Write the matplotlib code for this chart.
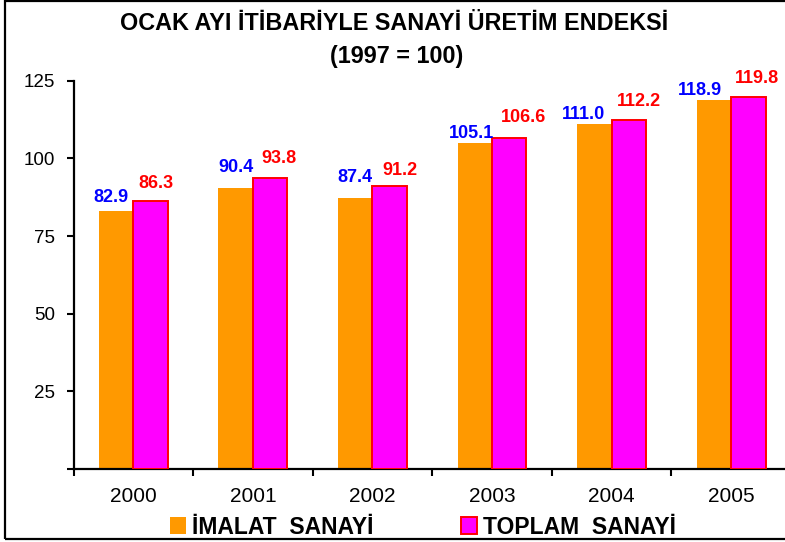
import numpy as np
import matplotlib
matplotlib.use("Agg")
import matplotlib.pyplot as plt
from matplotlib.patches import Rectangle, Patch

# veriler
years = ["2000", "2001", "2002", "2003", "2004", "2005"]
imalat = [82.9, 90.4, 87.4, 105.1, 111.0, 118.9]
toplam = [86.3, 93.8, 91.2, 106.6, 112.2, 119.8]

# etiket kaydirmalari (piksel)
imalat_off = [(-5, 9), (0, 16), (0, 16), (-3, 5), (-11, 5), (-14, 5)]
toplam_off = [(5, 13), (9, 15), (10, 11), (14, 16), (10, 14), (9, 14)]

arial = ["Liberation Sans", "DejaVu Sans"]
plt.rcParams["font.family"] = arial

W, H = 785, 542
fig = plt.figure(figsize=(W / 100, H / 100), dpi=100)

# cerceve
fig.patches.append(
    Rectangle((5 / W, 3 / H), 1.2, (541 - 3) / H, transform=fig.transFigure,
              fill=False, edgecolor="black", linewidth=1.6)
)

ax_l, ax_r, ax_b, ax_t = 73.5, 791, 469, 80.7
ax = fig.add_axes([ax_l / W, 1 - ax_b / H, (ax_r - ax_l) / W, (ax_b - ax_t) / H])

x = np.arange(len(years)) + 0.5
bw = 0.288

ax.bar(x - bw / 2, imalat, bw, color="#FF9900", edgecolor="none", zorder=2)
ax.bar(x + bw / 2, toplam, bw, color="#FF00FF", edgecolor="#FF0000",
       linewidth=1.4, zorder=3)

for xi, v, (dx, dy) in zip(x - bw / 2, imalat, imalat_off):
    ax.annotate(f"{v:.1f}", (xi, v), xytext=(dx, dy), textcoords="offset pixels",
                ha="center", va="baseline", color="#0000FF", fontsize=13,
                fontweight="bold", annotation_clip=False)
for xi, v, (dx, dy) in zip(x + bw / 2, toplam, toplam_off):
    ax.annotate(f"{v:.1f}", (xi, v), xytext=(dx, dy), textcoords="offset pixels",
                ha="center", va="baseline", color="#FF0000", fontsize=13,
                fontweight="bold", annotation_clip=False)

ax.set_xlim(0, len(years))
ax.set_ylim(0, 125)
ax.set_yticks([0, 25, 50, 75, 100, 125])
ax.set_yticklabels(["", "25", "50", "75", "100", "125"], fontsize=13.5)

ax.set_xticks(np.arange(len(years) + 1))
ax.set_xticklabels([])
ax.set_xticks(x, minor=True)
ax.set_xticklabels(years, minor=True, fontsize=15)
ax.tick_params(axis="x", which="minor", length=0, pad=13)
ax.tick_params(axis="both", which="major", length=5, width=1.5, direction="out")
ax.tick_params(axis="y", pad=8)

for s in ["top", "right"]:
    ax.spines[s].set_visible(False)
for s in ["left", "bottom"]:
    ax.spines[s].set_linewidth(1.6)

# baslik
fig.text(394.5 / W, 1 - 23 / H, "OCAK AYI İTİBARİYLE SANAYİ ÜRETİM ENDEKSİ",
         ha="center", va="center", fontsize=16.8, fontweight="bold")
fig.text(396.5 / W, 1 - 56 / H, "(1997 = 100)",
         ha="center", va="center", fontsize=16.8, fontweight="bold")

# lejant
handles = [Patch(facecolor="#FF9900", edgecolor="none"),
           Patch(facecolor="#FF00FF", edgecolor="#FF0000", linewidth=1.4)]
fig.legend(handles, ["İMALAT  SANAYİ", "TOPLAM  SANAYİ"], loc="center",
           bbox_to_anchor=(423 / W, 1 - 527 / H), ncol=2, frameon=False,
           prop={"weight": "bold", "size": 16.5},
           handlelength=0.7, handleheight=0.7, handletextpad=0.25,
           columnspacing=3.8, borderpad=0)

fig.savefig("out.png", dpi=100)
